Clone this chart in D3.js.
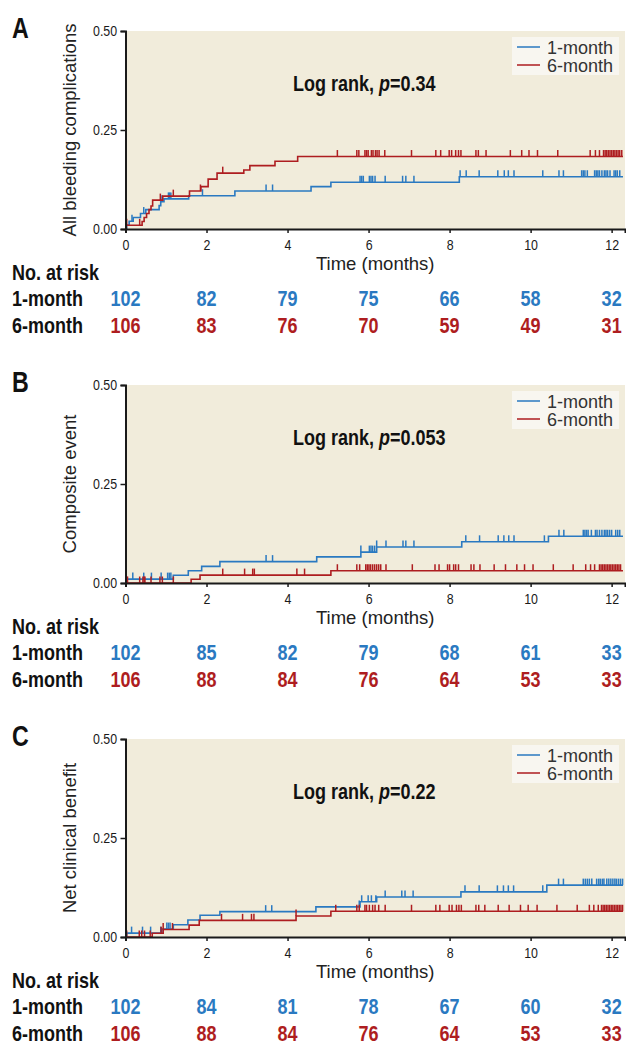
<!DOCTYPE html>
<html><head><meta charset="utf-8">
<script src="https://cdn.jsdelivr.net/npm/d3@7"></script>
<style>
body{margin:0;background:#fff;}
text{font-family:"Liberation Sans",Arial,sans-serif;}
</style></head>
<body><svg id="c" width="626" height="1045"></svg>
<script>
// ---------- data ----------
const timeTicks = [0, 2, 4, 6, 8, 10, 12];
const yTicks = [0, 0.25, 0.5];
const panelLabels = ["A", "B", "C"];
const yTitles = ["All bleeding complications", "Composite event", "Net clinical benefit"];
const pValues = ["0.34", "0.053", "0.22"];
const seriesNames = ["1-month", "6-month"];
const atRisk1 = [[102, 82, 79, 75, 66, 58, 32], [102, 85, 82, 79, 68, 61, 33], [102, 84, 81, 78, 67, 60, 32]];
const atRisk6 = [[106, 83, 76, 70, 59, 49, 31], [106, 88, 84, 76, 64, 53, 33], [106, 88, 84, 76, 64, 53, 33]];

// step changes [time (months), cumulative incidence]
const stepsA1 = [[0.03,0.0098],[0.09,0.0196],[0.19,0.029],[0.37,0.039],[0.5,0.049],[0.83,0.059],[0.87,0.069],[0.95,0.076],[1.56,0.084],[2.7,0.096],[4.58,0.107],[5.07,0.118],[8.24,0.132]];
const stepsA6 = [[0.02,0.0094],[0.41,0.019],[0.46,0.029],[0.52,0.039],[0.58,0.049],[0.63,0.058],[0.67,0.073],[0.92,0.083],[1.58,0.096],[1.86,0.107],[2.04,0.126],[2.26,0.141],[2.92,0.149],[3.07,0.160],[3.69,0.171],[4.25,0.183]];
const stepsB1 = [[0.03,0.0098],[1.18,0.0196],[1.55,0.031],[1.88,0.042],[2.33,0.054],[4.72,0.066],[5.81,0.078],[6.2,0.091],[8.3,0.104],[10.44,0.118]];
const stepsB6 = [[1.62,0.0095],[1.84,0.020],[5.07,0.031]];
const stepsC1 = [[0.03,0.0098],[0.9,0.020],[1.18,0.031],[1.54,0.043],[1.84,0.055],[2.33,0.064],[4.7,0.076],[5.79,0.089],[6.2,0.101],[8.28,0.114],[10.4,0.131]];
const stepsC6 = [[0.66,0.0094],[0.93,0.019],[1.57,0.030],[1.82,0.042],[4.21,0.053],[5.07,0.065]];

// censoring times (months)
const censorA1 = [0.16,0.45,0.9,1.06,1.09,1.12,1.9,3.47,3.63,5.79,5.83,5.87,6.02,6.06,6.1,6.16,6.41,6.84,6.92,7.12,8.26,8.41,8.73,9.19,9.35,9.45,9.59,10.3,10.7,10.81,11.26,11.3,11.34,11.4,11.58,11.62,11.66,11.7,11.76,11.82,11.86,11.9,11.96,12.06,12.1,12.14,12.2];
const censorA6 = [0.03,0.35,0.86,1.18,1.85,2.4,5.23,5.71,5.76,5.91,5.95,5.99,6.07,6.11,6.17,6.21,6.26,6.4,7.06,7.66,7.78,7.99,8.05,8.15,8.22,8.28,8.65,8.71,8.9,9.5,9.78,9.96,10.17,10.67,11.47,11.6,11.7,11.8,11.84,11.88,11.92,11.96,12.0,12.04,12.08,12.12,12.16,12.2,12.25];
const censorB1 = [0.18,0.45,0.64,0.88,1.04,1.08,1.12,3.47,3.63,5.81,6.02,6.06,6.1,6.15,6.2,6.43,6.85,6.92,7.12,8.4,8.74,9.2,9.34,9.46,9.59,10.34,10.7,10.82,11.3,11.34,11.38,11.42,11.5,11.6,11.64,11.7,11.76,11.82,11.86,11.9,11.95,12.0,12.1,12.15,12.2];
const censorB6 = [0.03,0.05,0.35,0.43,0.46,0.48,0.63,0.85,0.91,1.18,2.4,2.94,3.14,3.18,4.23,4.42,5.23,5.71,5.78,5.93,5.97,6.01,6.05,6.1,6.15,6.2,6.25,6.3,6.43,7.08,7.64,7.74,7.95,8.0,8.1,8.15,8.22,8.53,8.6,8.75,9.1,9.38,9.66,9.85,10.06,10.56,11.05,11.36,11.48,11.58,11.7,11.74,11.78,11.82,11.86,11.9,11.94,11.98,12.02,12.06,12.1,12.14,12.18,12.22];
const censorC1 = [0.15,0.42,0.62,0.87,1.02,1.06,1.1,3.46,3.61,5.77,5.83,5.99,6.07,6.18,6.41,6.82,6.9,7.1,8.38,8.73,9.18,9.33,9.45,9.58,10.3,10.69,10.81,11.3,11.35,11.4,11.45,11.51,11.63,11.68,11.72,11.77,11.81,11.88,11.93,11.98,12.03,12.08,12.12,12.17,12.22,12.27];
const censorC6 = [0.03,0.34,0.4,0.47,0.61,0.88,0.93,1.16,2.37,2.89,3.11,3.17,4.21,5.19,5.71,5.77,5.91,5.95,6.02,6.1,6.16,6.25,6.41,7.06,7.66,7.76,7.99,8.06,8.17,8.23,8.29,8.65,8.72,8.87,9.2,9.47,9.75,9.94,10.16,10.65,11.15,11.45,11.56,11.67,11.75,11.79,11.83,11.87,11.91,11.95,11.99,12.03,12.07,12.11,12.15,12.19,12.23,12.27];

const steps1 = [stepsA1, stepsB1, stepsC1];
const steps6 = [stepsA6, stepsB6, stepsC6];
const censor1 = [censorA1, censorB1, censorC1];
const censor6 = [censorA6, censorB6, censorC6];
const xMax = 12.33, followEnd = 12.28;

// ---------- drawing ----------
const colors = ["#2a79c1", "#ae1d20"];
const svg = d3.select("#c");
const tops = [31, 385, 739];
const plotH = 198, x0 = 125.5, x1 = 625;
const SX = 0.8; // horizontal squeeze to imitate a condensed face

function ctext(sel, x, y, size, weight, anchor, fill, str) {
  return sel.append("text").attr("transform", `translate(${x},${y}) scale(${SX},1)`)
    .attr("font-size", size).attr("font-weight", weight).attr("text-anchor", anchor)
    .attr("fill", fill).text(str);
}

function valueAt(steps, t) {
  let v = 0;
  for (const s of steps) { if (s[0] <= t) v = s[1]; }
  return v;
}

panelLabels.forEach((lab, i) => {
  const top = tops[i], bottom = top + plotH;
  const x = d3.scaleLinear().domain([0, xMax]).range([x0, x1]);
  const y = d3.scaleLinear().domain([0, 0.5]).range([bottom, top]);
  const g = svg.append("g");

  g.append("rect").attr("x", x(0)).attr("y", y(0.5)).attr("width", x(xMax) - x(0)).attr("height", y(0) - y(0.5)).attr("fill", "#f1ecdb");

  // panel letter
  ctext(g, 12, top + 7, 29, "bold", "start", "#111", lab);

  // curves
  [steps1[i], steps6[i]].forEach((st, k) => {
    const pts = [[0, 0]].concat(st).concat([[followEnd, st[st.length - 1][1]]]);
    g.append("path").attr("d", d3.line().x(d => x(d[0])).y(d => y(d[1])).curve(d3.curveStepAfter)(pts))
      .attr("fill", "none").attr("stroke", colors[k]).attr("stroke-width", 1.6);
    const cz = k === 0 ? censor1[i] : censor6[i];
    g.selectAll(null).data(cz).enter().append("line")
      .attr("x1", d => x(d)).attr("x2", d => x(d))
      .attr("y1", d => y(valueAt(st, d))).attr("y2", d => y(valueAt(st, d)) - 6.5)
      .attr("stroke", colors[k]).attr("stroke-width", 1.5);
  });

  // axes
  const ya = g.append("g").attr("transform", `translate(${x(0)},0)`)
    .call(d3.axisLeft(y).tickValues(yTicks).tickFormat(d3.format(".2f")).tickSize(5).tickPadding(5.5));
  const xa = g.append("g").attr("transform", `translate(0,${y(0)})`)
    .call(d3.axisBottom(x).tickValues(timeTicks).tickSize(4).tickPadding(6));
  [ya, xa].forEach(a => {
    a.select(".domain").attr("stroke", "#1a1a1a").attr("stroke-width", 2);
    a.selectAll(".tick line").attr("stroke", "#1a1a1a").attr("stroke-width", 1.5);
    a.selectAll(".tick text").attr("font-family", "Liberation Sans, Arial, sans-serif")
      .attr("font-size", 15.5).attr("fill", "#1a1a1a").attr("transform", `scale(${SX},1)`);
  });

  // y title
  g.append("text").attr("transform", `translate(76,${(top + bottom) / 2}) rotate(-90)`)
    .attr("text-anchor", "middle").attr("font-size", 18.5).attr("fill", "#222").text(yTitles[i]);
  // x title
  g.append("text").attr("x", (x0 + x1) / 2).attr("y", bottom + 41)
    .attr("text-anchor", "middle").attr("font-size", 18.5).attr("fill", "#222").text("Time (months)");

  // log rank
  const lr = ctext(g, 293, top + 60, 22.5, "bold", "start", "#111", null);
  lr.append("tspan").text("Log rank, ");
  lr.append("tspan").attr("font-style", "italic").text("p");
  lr.append("tspan").text("=" + pValues[i]);

  // legend
  const lg = g.append("g").attr("transform", `translate(512,${top + 6})`);
  lg.append("rect").attr("width", 107).attr("height", 38).attr("fill", "#f8f6f0");
  seriesNames.forEach((n, k) => {
    lg.append("line").attr("x1", 5).attr("x2", 28).attr("y1", 10 + k * 18).attr("y2", 10 + k * 18)
      .attr("stroke", colors[k]).attr("stroke-width", 1.5);
    lg.append("text").attr("x", 35).attr("y", 10 + k * 18 + 6.5)
      .attr("font-size", 18).attr("fill", "#333").text(n);
  });

  // numbers at risk
  ctext(g, 12, bottom + 51, 22.5, "bold", "start", "#111", "No. at risk");
  [atRisk1[i], atRisk6[i]].forEach((row, k) => {
    const yy = bottom + 77 + k * 27;
    ctext(g, 12, yy, 22.5, "bold", "start", "#111", seriesNames[k]);
    row.forEach((d, j) => ctext(g, x(timeTicks[j]), yy, 22.5, "bold", "middle", colors[k], d));
  });
});
</script></body></html>
